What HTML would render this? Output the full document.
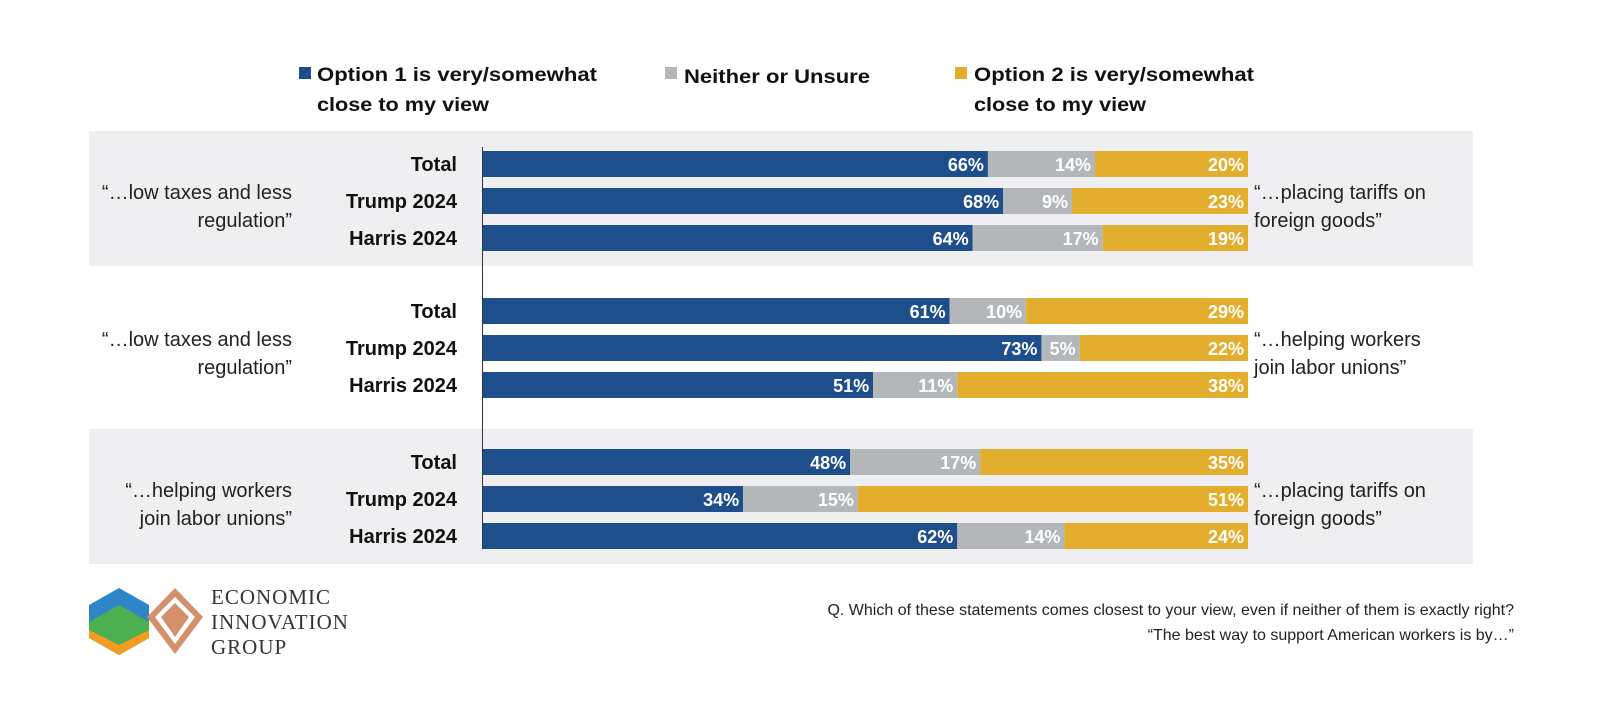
<!DOCTYPE html>
<html><head><meta charset="utf-8"><style>
body{margin:0;background:#fff;width:1600px;height:708px;overflow:hidden;font-family:"Liberation Sans",sans-serif}
svg text{font-family:"Liberation Sans",sans-serif}
</style></head><body>
<svg id="chart" width="1600" height="708" viewBox="0 0 1600 708" xmlns="http://www.w3.org/2000/svg">
<g font-weight="bold" font-size="19" fill="#111">
<rect x="299" y="67" width="12" height="12" fill="#1f4e8c"/>
<text x="317" y="81" textLength="280" lengthAdjust="spacingAndGlyphs">Option 1 is very/somewhat</text>
<text x="317" y="111" textLength="172" lengthAdjust="spacingAndGlyphs">close to my view</text>
<rect x="665" y="67" width="12" height="12" fill="#b4b7ba"/>
<text x="684" y="83" textLength="186" lengthAdjust="spacingAndGlyphs">Neither or Unsure</text>
<rect x="955" y="67" width="12" height="12" fill="#e3ae2d"/>
<text x="974" y="81" textLength="280" lengthAdjust="spacingAndGlyphs">Option 2 is very/somewhat</text>
<text x="974" y="111" textLength="172" lengthAdjust="spacingAndGlyphs">close to my view</text>
</g>
<g id="bands"></g>
<g id="bars"></g>
<line x1="482.5" y1="147" x2="482.5" y2="549" stroke="#333" stroke-width="1"/>
<g>
<polygon points="119,588 149,605 149,638 119,655 89,638 89,605" fill="#2e86c9"/>
<polygon points="89,622 119,605 149,622 149,638 119,655 89,638" fill="#4caf50"/>
<polygon points="89,630 119,645 149,630 149,638 119,655 89,638" fill="#f39c1f"/>
<polygon points="175,588 203,617 175,654 147,617" fill="#d3906b"/>
<polygon points="175,597 195,617 175,644 155,617" fill="#fff"/>
<polygon points="175,603 189,617 175,637 161,617" fill="#d3906b"/>
<text x="211" y="604" style="font-family:'Liberation Serif',serif" font-size="21" fill="#333" letter-spacing="1">ECONOMIC</text>
<text x="211" y="629" style="font-family:'Liberation Serif',serif" font-size="21" fill="#333" letter-spacing="1">INNOVATION</text>
<text x="211" y="654" style="font-family:'Liberation Serif',serif" font-size="21" fill="#333" letter-spacing="1">GROUP</text>
</g>
<text x="1514" y="615" text-anchor="end" font-size="16" fill="#222">Q. Which of these statements comes closest to your view, even if neither of them is exactly right?</text>
<text x="1514" y="640" text-anchor="end" font-size="16" fill="#222">“The best way to support American workers is by…”</text>
</svg>
<script>
const groupLeft = ["“…low taxes and less|regulation”","“…low taxes and less|regulation”","“…helping workers|join labor unions”"];
const groupRight = ["“…placing tariffs on|foreign goods”","“…helping workers|join labor unions”","“…placing tariffs on|foreign goods”"];
const rowLabels = ["Total","Trump 2024","Harris 2024"];
const option1 = [[66,68,64],[61,73,51],[48,34,62]];
const neither = [[14,9,17],[10,5,11],[17,15,14]];
const option2 = [[20,23,19],[29,22,38],[35,51,24]];

const NS="http://www.w3.org/2000/svg";
const x0=483, W=765, groupTop=[131,278,429], rowStep=37, barH=26;
const xs=v=>x0+v/100*W;
const colors=["#1f4e8c","#b4b7ba","#e3ae2d"];
const segNames=["option1","neither","option2"];
const bands=document.getElementById('bands'), bars=document.getElementById('bars');
function mk(tag,attrs,parent){const e=document.createElementNS(NS,tag);for(const k in attrs)e.setAttribute(k,attrs[k]);parent.appendChild(e);return e;}
groupTop.forEach((gt,g)=>{
  if(g!==1){
    const b=mk('rect',{x:89,y:gt,width:1384,height:135,fill:'#efeff1'},bands);
    
    
  }
  const cy=gt+70;
  groupLeft[g].split('|').forEach((s,i)=>{
    const t=mk('text',{x:292,y:cy-2+i*28,'text-anchor':'end','font-size':20,fill:'#222'},bars);
    
    
    t.textContent=s;
  });
  groupRight[g].split('|').forEach((s,i)=>{
    const t=mk('text',{x:1254,y:cy-2+i*28,'font-size':20,fill:'#222'},bars);
    
    
    t.textContent=s;
  });
  rowLabels.forEach((lab,r)=>{
    const y=gt+20+r*rowStep;
    const t=mk('text',{x:457,y:y+20,'text-anchor':'end','font-size':20,'font-weight':'bold',fill:'#111'},bars);
    
    
    t.textContent=lab;
    const vals=[option1[g][r],neither[g][r],option2[g][r]];
    let acc=0;
    vals.forEach((v,k)=>{
      const xa=xs(acc), xb=xs(acc+v);
      const rc=mk('rect',{x:xa,y:y,width:xb-xa,height:barH,fill:colors[k]},bars);
      
      
      const tt=mk('text',{x:xb-4,y:y+20,'text-anchor':'end','font-size':18,'font-weight':'bold',fill:'#fff'},bars);
      
      
      tt.textContent=v+'%';
      acc+=v;
    });
  });
});
</script>
</body></html>
